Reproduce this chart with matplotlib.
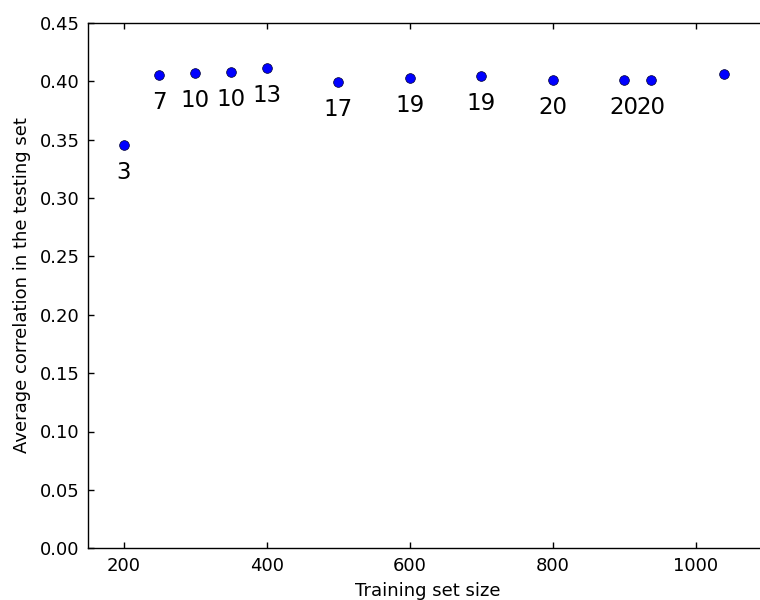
import matplotlib
matplotlib.use("Agg")
import matplotlib.pyplot as plt

train_size = [200, 250, 300, 350, 400, 500, 600, 700, 800, 900, 938, 1040]
avg_corr = [0.345, 0.405, 0.407, 0.4075, 0.4115, 0.3995, 0.403, 0.404, 0.401, 0.401, 0.401, 0.406]
point_labels = ["3", "7", "10", "10", "13", "17", "19", "19", "20", "20", "20", ""]

xticks = [200, 400, 600, 800, 1000]
yticks = [0.00, 0.05, 0.10, 0.15, 0.20, 0.25, 0.30, 0.35, 0.40, 0.45]

plt.rcParams['font.family'] = ['DejaVu Sans']

fig = plt.figure(figsize=(7.6, 6.0), dpi=100)
ax = fig.add_axes([88 / 760, 51.7 / 600, (767 - 88) / 760, (548.3 - 22.7) / 600])

ax.plot(train_size, avg_corr, 'o', color='#0000ff', markersize=7,
        markeredgecolor='#000033', markeredgewidth=0.5)

for xv, yv, lab in zip(train_size, avg_corr, point_labels):
    if lab:
        ax.text(xv, yv - 0.0235, lab, ha='center', va='center', fontsize=16.5, color='black')

ax.set_xlim(150, 1100)
ax.set_ylim(0, 0.45)
ax.set_xticks(xticks)
ax.set_yticks(yticks)
ax.set_yticklabels([f"{t:.2f}" for t in yticks])
ax.tick_params(direction='in', length=4.5, width=1, top=True, right=True, labelsize=13, pad=6, colors='black')
for s in ax.spines.values():
    s.set_linewidth(1.0)
    s.set_color('black')

ax.set_xlabel("Training set size", fontsize=13, labelpad=5)
ax.set_ylabel("Average correlation in the testing set", fontsize=13, labelpad=6)

fig.savefig("out.png", dpi=100)
